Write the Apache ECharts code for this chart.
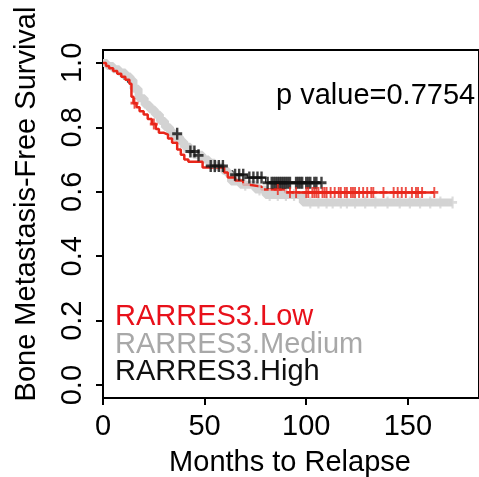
<!DOCTYPE html>
<html>
<head>
<meta charset="utf-8">
<script src="https://cdn.jsdelivr.net/npm/echarts@6/dist/echarts.min.js"></script>
<style>
html,body{margin:0;padding:0;background:#fff;}
#chart{width:479px;height:477px;}
</style>
</head>
<body>
<div id="chart"></div>
<script>
// ---- data ----
var groupNames = ['RARRES3.Low', 'RARRES3.Medium', 'RARRES3.High'];

// Kaplan-Meier steps: times (months) and survival after each step
var lowTimes = [0, 1.5, 3, 5, 7, 9, 11, 13, 14, 15, 16.5, 18, 20, 22, 24, 26, 27.5, 30, 32, 34, 36.5, 38.3, 40, 42, 49, 59.6, 61.4, 65, 69, 72, 78, 90, 163];
var lowSurv  = [1.0, 0.99, 0.983, 0.975, 0.966, 0.957, 0.948, 0.935, 0.895, 0.875, 0.862, 0.85, 0.84, 0.826, 0.81, 0.795, 0.783, 0.777, 0.765, 0.752, 0.731, 0.715, 0.70, 0.693, 0.675, 0.66, 0.644, 0.635, 0.622, 0.616, 0.607, 0.598, 0.598];
var lowCensor = [15.5, 25, 86, 92, 95, 100, 101, 103, 104, 105, 106, 108, 109, 110, 112, 114, 116, 117, 119, 120, 122, 123, 124, 126, 128, 130, 132, 133, 138, 143, 145, 147, 149, 152, 154, 155, 157, 163];

var medTimes = [0, 2, 5, 8, 11, 13.5, 15, 17.5, 20.5, 23, 25.5, 28, 30.5, 33, 35, 38, 40, 43, 44.5, 48.9, 52, 55, 59, 61.5, 63, 67.5, 75, 80, 98.3, 172];
var medSurv  = [1.0, 0.99, 0.98, 0.97, 0.958, 0.947, 0.92, 0.89, 0.87, 0.855, 0.84, 0.82, 0.80, 0.785, 0.77, 0.755, 0.74, 0.725, 0.715, 0.70, 0.69, 0.678, 0.665, 0.653, 0.632, 0.622, 0.607, 0.59, 0.567, 0.567];
var medCensor = [40, 55, 70, 77, 82, 86, 90, 94, 102, 106, 110, 113, 117, 120, 124, 129, 134, 140, 146, 151, 156, 161, 166, 172];

var highTimes = [0, 2, 5, 8, 10, 12, 15, 17, 20, 23, 26, 29, 32, 34.5, 38, 40.5, 42.5, 46, 49, 52, 60, 64, 71, 80, 107.5];
var highSurv  = [1.0, 0.99, 0.978, 0.963, 0.95, 0.94, 0.915, 0.895, 0.87, 0.85, 0.83, 0.81, 0.795, 0.78, 0.76, 0.74, 0.725, 0.713, 0.695, 0.68, 0.665, 0.653, 0.644, 0.628, 0.628];
var highCensor = [36.5, 43, 45, 47, 53, 55, 57, 59, 65, 67, 69, 72, 74, 76, 78, 81, 83, 84, 85, 86, 87, 88, 89, 90, 91, 92, 95, 96, 97, 98, 100, 101, 102, 104, 105, 107.5];

var xTicks = [0, 50, 100, 150];
var yTicks = [0, 0.2, 0.4, 0.6, 0.8, 1.0];
var pValueText = 'p value=0.7754';
var xTitle = 'Months to Relapse';
var yTitle = 'Bone Metastasis-Free Survival';

// ---- helpers ----
function steps(times, surv) {
  return times.map(function (t, i) { return [t, surv[i]]; });
}
function survAt(times, surv, t) {
  var s = surv[0];
  for (var i = 0; i < times.length; i++) { if (times[i] <= t) s = surv[i]; }
  return s;
}
function censorPts(cens, times, surv) {
  return cens.map(function (t) { return [t, survAt(times, surv, t)]; });
}

var FONT = '"Liberation Sans", Arial, sans-serif';
var FS = 29;
var RED = '#e8261a', GRAY = '#d3d3d3', BLACK = '#111111';
var PLUS = 'path://M0,3.8H10V6.2H0Z M3.8,0H6.2V10H3.8Z';

var chart = echarts.init(document.getElementById('chart'), null, {renderer: 'canvas'});
chart.setOption({
  animation: false,
  backgroundColor: '#ffffff',
  grid: {left: 103, top: 50, right: -25, bottom: 79, show: true, borderColor: '#000', borderWidth: 2, containLabel: false},
  xAxis: {
    type: 'value', min: 0, max: 185,
    axisLine: {show: true, onZero: false, lineStyle: {color: '#000', width: 2}},
    axisTick: {show: true, length: 7, lineStyle: {color: '#000', width: 2}, customValues: xTicks},
    axisLabel: {show: true, margin: 14, color: '#000', fontSize: FS, fontFamily: FONT, customValues: xTicks},
    splitLine: {show: false}
  },
  yAxis: {
    type: 'value', min: -0.04, max: 1.04,
    axisLine: {show: true, onZero: false, lineStyle: {color: '#000', width: 2}},
    axisTick: {show: true, length: 7, lineStyle: {color: '#000', width: 2}, customValues: yTicks},
    axisLabel: {show: true, margin: 16, rotate: 90, color: '#000', fontSize: FS, fontFamily: FONT,
      customValues: yTicks, formatter: function (v) { return v.toFixed(1); }},
    splitLine: {show: false}
  },
  series: [
    {name: groupNames[2], type: 'line', step: 'end', data: steps(highTimes, highSurv), showSymbol: false, z: 1,
      lineStyle: {color: BLACK, width: 1}},
    {name: groupNames[1], type: 'line', step: 'end', data: steps(medTimes, medSurv), showSymbol: false, z: 2,
      lineStyle: {color: GRAY, width: 8}},
    {name: groupNames[0], type: 'line', step: 'end', data: steps(lowTimes, lowSurv), showSymbol: false, z: 3,
      lineStyle: {color: RED, width: 2.5}},
    {name: groupNames[1] + ' censored', type: 'scatter', data: censorPts(medCensor, medTimes, medSurv), z: 4,
      symbol: PLUS, symbolSize: [9, 12], itemStyle: {color: GRAY}},
    {name: groupNames[2] + ' censored', type: 'scatter', data: censorPts(highCensor, highTimes, highSurv), z: 5,
      symbol: PLUS, symbolSize: [10, 12], itemStyle: {color: BLACK}},
    {name: groupNames[0] + ' censored', type: 'scatter', data: censorPts(lowCensor, lowTimes, lowSurv), z: 6,
      symbol: PLUS, symbolSize: [8, 11], itemStyle: {color: RED}}
  ],
  graphic: [
    {type: 'text', left: 276, top: 81, style: {text: pValueText, fill: '#000', font: FS + 'px ' + FONT}},
    {type: 'text', x: 115, y: 317, style: {text: groupNames[0], fill: '#e8101a', font: FS + 'px ' + FONT, verticalAlign: 'middle'}},
    {type: 'text', x: 115, y: 345, style: {text: groupNames[1], fill: '#a8a8a8', font: FS + 'px ' + FONT, verticalAlign: 'middle'}},
    {type: 'text', x: 115, y: 372, style: {text: groupNames[2], fill: '#111', font: FS + 'px ' + FONT, verticalAlign: 'middle'}},
    {type: 'text', x: 290, y: 463, style: {text: xTitle, fill: '#000', font: FS + 'px ' + FONT, align: 'center', verticalAlign: 'middle'}},
    {type: 'text', x: 27, y: 204, rotation: Math.PI / 2, style: {text: yTitle, fill: '#000', font: FS + 'px ' + FONT, align: 'center', verticalAlign: 'middle'}}
  ]
});
</script>
</body>
</html>
